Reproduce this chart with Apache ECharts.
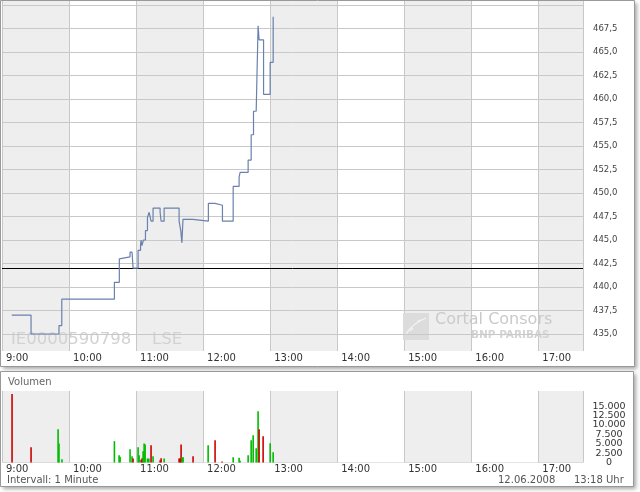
<!DOCTYPE html>
<html>
<head>
<meta charset="utf-8">
<script src="https://cdn.jsdelivr.net/npm/echarts@6/dist/echarts.min.js"></script>
<style>
html,body{margin:0;padding:0;background:#fff;}
#chart{width:640px;height:492px;}
</style>
</head>
<body>
<div id="chart"></div>
<script>
// ---- data (minutes after 9:00) ----
var priceMinutes = [8.7, 26, 51, 53.5, 100.6, 105, 105.7, 114.6, 116.4, 117.3, 121.8, 124, 124.5, 125.2, 126.6, 128.4, 130.2, 131.7, 133.4, 135.2, 141.5, 142.4, 145.1, 158.5, 160, 161, 162, 170.8, 184.7, 190.7, 197.3, 206.9, 212.2, 213.1, 220.3, 223, 225.1, 227.5, 229.2, 230.1, 234.1, 240.0, 242.7];
var prices = [437.0, 435.0, 435.9, 438.7, 440.5, 443.0, 443.2, 443.7, 443.9, 442.0, 443.9, 444.5, 445.0, 444.4, 445.0, 446.0, 447.4, 447.95, 447.0, 448.4, 447.95, 447.0, 448.4, 447.0, 446.0, 444.7, 447.2, 447.0, 448.9, 448.7, 447.0, 450.7, 451.7, 452.2, 453.5, 456.2, 458.7, 458.9, 467.8, 466.3, 460.5, 463.9, 468.75];
var previousClose = 442.0;
var priceTicks = [435, 437.5, 440, 442.5, 445, 447.5, 450, 452.5, 455, 457.5, 460, 462.5, 465, 467.5];
var priceGridValues = [435, 437.5, 440, 442.5, 445, 447.5, 450, 452.5, 455, 457.5, 460, 462.5, 465, 467.5, 470];
var volMinutes = [9.0, 26, 50.2, 51, 53.7, 100.6, 104.8, 105.7, 114.6, 116.4, 117.3, 121.8, 122.7, 124.5, 125.4, 126.3, 127.2, 128.1, 130.2, 131.4, 133.4, 135.2, 141.5, 142.4, 145.1, 158.5, 159.4, 160.3, 161.2, 162.1, 171, 184.5, 190.7, 197, 206.9, 212.2, 213.1, 220.3, 223, 224.8, 227.5, 229.2, 230.1, 233.7, 240.0, 242.7];
var volumes = [18170, 4080, 8865, 5050, 890, 5670, 1950, 1500, 3550, 1680, 1060, 4080, 1950, 710, 1150, 3010, 5050, 4790, 1060, 1060, 4610, 1680, 620, 1150, 1060, 1060, 1150, 4790, 1420, 1420, 1680, 4610, 5940, 270, 1420, 1240, 440, 1950, 5940, 7270, 3810, 13650, 8865, 7000, 5140, 2750];
var volDirections = ['d','d','u','u','u','u','u','u','u','u','d','u','u','d','d','u','u','u','u','u','d','u','d','d','u','d','d','d','u','u','d','u','d','d','u','u','u','u','u','u','u','u','d','d','u','u'];
var hourLabels = ['9:00','10:00','11:00','12:00','13:00','14:00','15:00','16:00','17:00'];
var volumeTicksA = [0, 5000, 10000, 15000];
var volumeTicksB = [2500, 7500, 12500];

var chart = echarts.init(document.getElementById('chart'), null, {renderer: 'canvas'});

var priceData = priceMinutes.map(function (m, i) { return [m, prices[i]]; });
var volData = volMinutes.map(function (m, i) {
  return { value: [m, volumes[i]], itemStyle: { color: volDirections[i] === 'u' ? '#00bb00' : '#cc0000' } };
});

function hourFmt(v) {
  var idx = Math.round(v / 60);
  if (Math.abs(v - idx * 60) > 0.01) return '';
  return hourLabels[idx] || '';
}
var FONT = 'DejaVu Sans';
var GRIDC = '#c8c8c8';

function xAxisCfg(gi) {
  return {
    type: 'value', gridIndex: gi, min: 0, max: 520, interval: 60,
    axisLine: { show: false }, axisTick: { show: false },
    axisLabel: { formatter: hourFmt, align: 'left', padding: [0, 0, 0, 4], margin: 7, verticalAlign: 'middle',
      color: '#333', fontFamily: FONT, fontSize: 10, showMaxLabel: false },
    splitLine: { show: true, lineStyle: { color: GRIDC, width: 1 } },
    splitArea: { show: true, areaStyle: { color: ['#eeeeee', '#ffffff'] } }
  };
}
function volLabelAxis(ticks, grid) {
  return { type: 'value', gridIndex: 1, position: 'right', min: 0, max: 19000, interval: 2500,
    axisLine: { show: false }, axisTick: { show: false },
    splitLine: { show: grid, lineStyle: { color: GRIDC, width: 1 } },
    axisLabel: { customValues: ticks, showMinLabel: true, margin: 26, align: 'center', color: '#333', fontFamily: FONT, fontSize: 9.5,
      formatter: function (v) { return v === 0 ? '0' : (v / 1000).toFixed(3); } } };
}

var option = {
  animation: false,
  backgroundColor: '#ffffff',
  grid: [
    { left: 2, top: 1, width: 581, height: 350 },
    { left: 2, top: 391, width: 581, height: 71.5 }
  ],
  xAxis: [xAxisCfg(0), xAxisCfg(1)],
  yAxis: [
    { type: 'value', gridIndex: 0, position: 'right', min: 433.19, max: 470.43,
      axisLine: { show: false }, axisTick: { show: false }, splitLine: { show: false },
      axisLabel: { customValues: priceTicks, margin: 10, align: 'left', color: '#444', fontFamily: FONT, fontSize: 8.5,
        formatter: function (v) { return v.toFixed(1).replace('.', ','); } } },
    volLabelAxis(volumeTicksA, true),
    volLabelAxis(volumeTicksB, false)
  ],
  series: [
    { type: 'line', xAxisIndex: 0, yAxisIndex: 0, data: priceData, step: 'end', symbol: 'none', z: 3,
      lineStyle: { color: '#6a80ad', width: 1.2 },
      markLine: { silent: true, symbol: 'none', z: 1, label: { show: false }, animation: false,
        data: priceGridValues.map(function (v) { return { yAxis: v, lineStyle: { color: GRIDC, width: 1, type: 'solid' } }; })
          .concat([{ yAxis: previousClose, lineStyle: { color: '#000', width: 1, type: 'solid' } }]) } },
    { type: 'bar', xAxisIndex: 1, yAxisIndex: 1, data: volData, barWidth: 1.6, z: 3 }
  ],
  graphic: [
    { type: 'rect', z: -10, shape: { x: 0.5, y: 0.5, width: 634, height: 366 }, style: { fill: '#fff', shadowBlur: 4, shadowOffsetX: 2, shadowOffsetY: 2, shadowColor: 'rgba(0,0,0,0.35)' } },
    { type: 'rect', z: -10, shape: { x: 0.5, y: 371.5, width: 633, height: 115 }, style: { fill: '#fff', shadowBlur: 4, shadowOffsetX: 2, shadowOffsetY: 2, shadowColor: 'rgba(0,0,0,0.35)' } },
    { type: 'rect', z: 50, shape: { x: 0.5, y: 0.5, width: 634, height: 366 }, style: { fill: 'none', stroke: '#999', lineWidth: 1 } },
    { type: 'rect', z: 50, shape: { x: 0.5, y: 371.5, width: 633, height: 115 }, style: { fill: 'none', stroke: '#999', lineWidth: 1 } },
    { type: 'text', z: 1, x: 11, y: 340, style: { text: 'IE0000590798', fill: '#d2d2d2', font: '16.5px "DejaVu Sans"', verticalAlign: 'middle' } },
    { type: 'text', z: 1, x: 152, y: 340, style: { text: 'LSE', fill: '#d2d2d2', font: '16.5px "DejaVu Sans"', verticalAlign: 'middle' } },
    { type: 'rect', z: 1, shape: { x: 403, y: 313, width: 26, height: 27 }, style: { fill: '#dcdcdc' } },
    { type: 'bezierCurve', z: 1, shape: { x1: 406, y1: 334, x2: 426, y2: 318, cpx1: 413, cpy1: 323 }, style: { fill: 'none', stroke: '#f4f4f4', lineWidth: 1.2 } },
    { type: 'line', z: 1, shape: { x1: 410, y1: 331, x2: 413, y2: 328 }, style: { stroke: '#f4f4f4', lineWidth: 1.2 } },
    { type: 'line', z: 1, shape: { x1: 417, y1: 322, x2: 420, y2: 320 }, style: { stroke: '#f4f4f4', lineWidth: 1.2 } },
    { type: 'text', z: 1, x: 435, y: 320, style: { text: 'Cortal Consors', fill: '#cacaca', font: '16px "DejaVu Sans"', verticalAlign: 'middle' } },
    { type: 'text', z: 1, x: 471, y: 335, style: { text: 'BNP PARIBAS', fill: '#d4d4d4', font: 'bold 10.5px "DejaVu Sans"', verticalAlign: 'middle' } },
    { type: 'text', z: 5, x: 8, y: 382, style: { text: 'Volumen', fill: '#666', font: '10px "DejaVu Sans"', verticalAlign: 'middle' } },
    { type: 'text', z: 5, x: 7, y: 480, style: { text: 'Intervall: 1 Minute', fill: '#555', font: '10px "DejaVu Sans"', verticalAlign: 'middle' } },
    { type: 'text', z: 5, x: 498, y: 480, style: { text: '12.06.2008', fill: '#555', font: '10px "DejaVu Sans"', verticalAlign: 'middle' } },
    { type: 'text', z: 5, x: 574, y: 480, style: { text: '13:18 Uhr', fill: '#555', font: '10px "DejaVu Sans"', verticalAlign: 'middle' } }
  ]
};
chart.setOption(option);
</script>
</body>
</html>
